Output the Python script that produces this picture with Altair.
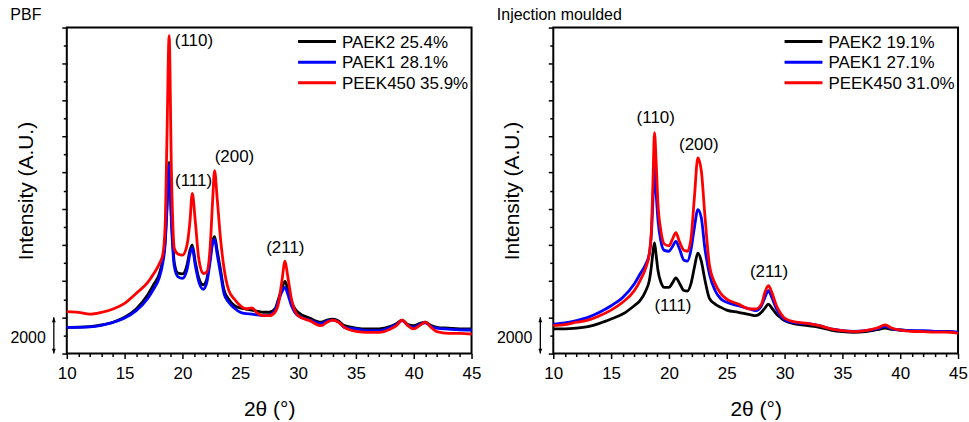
import altair as alt
import pandas as pd

FONT = "Liberation Sans, Arial, sans-serif"

# ---------------- PBF panel data ----------------
x_pbf = [10, 11, 12, 13, 14, 15, 16, 17, 17.5, 18,
         18.3, 18.5, 18.65, 18.85, 19.05, 19.3, 19.6, 20.0, 20.4, 20.65,
         20.85, 21.1, 21.4, 21.8, 22.1, 22.4, 22.6, 22.78, 23.0, 23.3,
         23.6, 24.0, 24.5, 25, 25.5, 26, 26.5, 27, 27.5, 28,
         28.3, 28.6, 28.87, 29.1, 29.4, 29.7, 30, 31, 32, 32.5,
         33, 33.5, 34, 35, 36, 37, 38, 38.5, 39, 39.5,
         40, 40.5, 41, 41.5, 42, 43, 44, 45]

paek2_pbf = [1450, 1460, 1490, 1580, 1730, 2000, 2460, 3250, 3800, 4400,
             5200, 6200, 8000, 10550, 7500, 5000, 4450, 4400, 4900, 5700,
             6000, 5100, 4200, 3800, 4100, 5300, 6200, 6450, 5700, 4600,
             3500, 3000, 2650, 2520, 2460, 2400, 2330, 2280, 2280, 2460,
             3000, 3600, 3980, 3600, 2900, 2500, 2280, 1960, 1730, 1850,
             1900, 1800, 1540, 1410, 1360, 1360, 1500, 1650, 1850, 1600,
             1540, 1650, 1730, 1550, 1450, 1400, 1360, 1360]

paek1_pbf = [1450, 1450, 1470, 1560, 1720, 1960, 2370, 3050, 3550, 4200,
             5000, 6000, 7800, 10450, 7200, 4800, 4250, 4150, 4650, 5500,
             5850, 4900, 4000, 3550, 3900, 5100, 6050, 6300, 5500, 4400,
             3300, 2830, 2500, 2280, 2200, 2180, 2130, 2090, 2130, 2370,
             2900, 3400, 3650, 3300, 2700, 2300, 2090, 1850, 1650, 1800,
             1850, 1750, 1450, 1360, 1270, 1270, 1450, 1600, 1820, 1550,
             1450, 1600, 1700, 1500, 1400, 1350, 1310, 1300]

peek450_pbf = [2310, 2270, 2180, 2280, 2460, 2770, 3320, 3930, 4390, 4950,
               5450, 7000, 11500, 17550, 10000, 5800, 5500, 5430, 6000, 7300,
               8850, 7400, 5300, 4420, 4500, 5900, 8300, 10100, 8600, 6300,
               4700, 3500, 3000, 2650, 2460, 2520, 2220, 2090, 2090, 2280,
               2750, 4000, 5100, 4300, 3100, 2400, 2090, 1820, 1540, 1730,
               1850, 1730, 1450, 1230, 1170, 1170, 1360, 1540, 1850, 1540,
               1360, 1540, 1730, 1450, 1210, 1120, 1120, 1080]

# ---------------- Injection moulded panel data ----------------
x_im = [10, 11, 12, 13, 14, 15, 16, 17, 17.5, 18,
        18.3, 18.5, 18.62, 18.75, 18.9, 19.05, 19.3, 19.6, 20, 20.3,
        20.6, 20.9, 21.3, 21.6, 21.9, 22.2, 22.5, 22.8, 23.1, 23.5,
        24, 24.5, 25, 26, 27, 27.5, 28, 28.3, 28.6, 28.9,
        29.3, 29.7, 30, 31, 32, 33, 34, 35, 36, 37,
        38, 38.7, 39.3, 40, 41, 42, 43, 44, 45]

paek2_im = [1360, 1360, 1400, 1490, 1670, 1910, 2180, 2640, 2920, 3470,
            4020, 4900, 5600, 6110, 5400, 4600, 3950, 3650, 3650, 3900,
            4180, 3900, 3480, 3450, 3850, 4750, 5550, 5100, 4100, 3050,
            2730, 2550, 2400, 2280, 2150, 2090, 2280, 2510, 2730, 2510,
            2180, 1960, 1820, 1630, 1540, 1450, 1300, 1210, 1170, 1210,
            1320, 1400, 1330, 1300, 1250, 1210, 1210, 1210, 1150]

paek1_im = [1630, 1700, 1820, 2000, 2280, 2640, 3100, 3840, 4390, 4940,
            5500, 6800, 8500, 10330, 8800, 7400, 6200, 5700, 5650, 5900,
            6200, 5800, 5150, 5100, 5700, 6950, 7950, 7500, 5850, 4400,
            3470, 3010, 2830, 2640, 2460, 2370, 2640, 3100, 3470, 3100,
            2460, 2050, 1870, 1690, 1650, 1540, 1360, 1270, 1230, 1270,
            1360, 1500, 1360, 1300, 1270, 1270, 1230, 1230, 1180]

peek450_im = [1540, 1600, 1730, 1850, 2090, 2400, 2830, 3470, 4020, 4750,
              5500, 7000, 9500, 12200, 10500, 8300, 6800, 6050, 5950, 6300,
              6680, 6200, 5700, 5650, 6300, 8600, 10800, 10100, 7700, 4900,
              3850, 3300, 3010, 2730, 2460, 2460, 2730, 3380, 3750, 3380,
              2640, 2180, 1960, 1730, 1670, 1540, 1360, 1270, 1210, 1270,
              1410, 1580, 1400, 1300, 1230, 1210, 1180, 1180, 1120]

series_colors = ["#000000", "#0000FF", "#FF0000"]
legend_pbf = ["PAEK2 25.4%", "PAEK1 28.1%", "PEEK450 35.9%"]
legend_im = ["PAEK2 19.1%", "PAEK1 27.1%", "PEEK450 31.0%"]

ann_pbf_lbl = ["(110)", "(111)", "(200)", "(211)"]
ann_pbf_x = [20.99, 20.96, 24.5, 28.9]
ann_pbf_y = [17267, 9524, 10863, 5854]
ann_im_lbl = ["(110)", "(200)", "(111)", "(211)"]
ann_im_x = [18.86, 22.58, 20.35, 28.66]
ann_im_y = [13010, 11542, 2642, 4477]

bar_low = [0]
bar_high = [2000]
bar_label = ["2000"]

X_MIN, X_MAX = 10, 45
Y_MIN, Y_MAX = 0, 18000
W, H = 406, 327


def make_panel(xs, ys_list, title, legend_labels, a_lbl, a_x, a_y):
    xscale = alt.Scale(domain=[X_MIN, X_MAX], nice=False, zero=False)
    yscale = alt.Scale(domain=[Y_MIN, Y_MAX], nice=False, zero=False)
    xaxis = alt.Axis(
        values=list(range(10, 46)), format="d",
        labelExpr="datum.value % 5 === 0 ? datum.label : ''",
        tickSize={"condition": {"test": "datum.value % 5 === 0", "value": 5}, "value": 3},
        tickColor="black", tickWidth=1.5, domain=False, grid=False,
        labelFont=FONT, labelFontSize=17, labelColor="black", labelPadding=7,
        labelFlush=False, labelOverlap=False,
        title="2θ (°)", titleFont=FONT, titleFontSize=21, titleFontWeight="normal",
        titleColor="black", titlePadding=17,
    )
    yaxis = alt.Axis(
        values=list(range(0, 18001, 1000)), labels=False,
        tickSize={"condition": {"test": "datum.value % 2000 === 0", "value": 5}, "value": 3.5},
        tickColor="black", tickWidth=1.5, domain=False, grid=False,
        title="Intensity (A.U.)", titleFont=FONT, titleFontSize=21, titleFontWeight="normal",
        titleColor="black", titlePadding=25,
    )
    X = lambda f: alt.X(f, scale=xscale, axis=xaxis)
    Y = lambda f: alt.Y(f, scale=yscale, axis=yaxis)
    layers = []
    for ys, col in zip(ys_list, series_colors):
        df = pd.DataFrame({"x": xs, "y": ys})
        layers.append(
            alt.Chart(df).mark_line(color=col, strokeWidth=2.8, interpolate="monotone").encode(
                x=X("x:Q"), y=Y("y:Q"),
            )
        )
    ann = pd.DataFrame({"x": a_x, "y": a_y, "t": a_lbl})
    layers.append(
        alt.Chart(ann).mark_text(font=FONT, fontSize=17, color="black", baseline="middle").encode(
            x=X("x:Q"), y=Y("y:Q"), text="t:N",
        )
    )
    # legend
    for i, (lab, col) in enumerate(zip(legend_labels, series_colors)):
        ypix = 14 + i * 20.7
        ldf = pd.DataFrame({"t": [lab]})
        layers.append(
            alt.Chart(ldf).mark_rule(color=col, strokeWidth=3).encode(
                x=alt.value(232), x2=alt.value(270), y=alt.value(ypix)
            )
        )
        layers.append(
            alt.Chart(ldf).mark_text(font=FONT, fontSize=17, color="black", align="left",
                                     baseline="middle").encode(
                x=alt.value(276), y=alt.value(ypix + 1), text="t:N"
            )
        )
    # scale bar
    bar = pd.DataFrame({"lo": bar_low, "hi": bar_high, "t": bar_label,
                        "mid": [(a + b) / 2 for a, b in zip(bar_low, bar_high)]})
    layers.append(
        alt.Chart(bar).mark_rule(color="black", strokeWidth=1.3).encode(
            x=alt.value(-13), y=Y("lo:Q"), y2="hi:Q",
        )
    )
    layers.append(
        alt.Chart(bar).mark_point(shape="M0,0L0.7,1.8L-0.7,1.8Z", filled=True, color="black",
                                  size=30, opacity=1).encode(
            x=alt.value(-13), y=Y("hi:Q")
        )
    )
    layers.append(
        alt.Chart(bar).mark_point(shape="M0,0L0.7,-1.8L-0.7,-1.8Z", filled=True, color="black",
                                  size=30, opacity=1).encode(
            x=alt.value(-13), y=Y("lo:Q")
        )
    )
    layers.append(
        alt.Chart(bar).mark_text(font=FONT, fontSize=16, color="black", align="right",
                                 baseline="middle", dy=3).encode(
            x=alt.value(-21), y=Y("mid:Q"), text="t:N"
        )
    )
    return alt.layer(*layers).properties(
        width=W, height=H,
        title=alt.TitleParams(text=title, anchor="start", font=FONT, fontSize=16,
                              fontWeight="normal", color="black", offset=4),
    )


left = make_panel(x_pbf, [paek2_pbf, paek1_pbf, peek450_pbf], "PBF", legend_pbf,
                  ann_pbf_lbl, ann_pbf_x, ann_pbf_y)
right = make_panel(x_im, [paek2_im, paek1_im, peek450_im], "Injection moulded", legend_im,
                   ann_im_lbl, ann_im_x, ann_im_y)

chart = alt.hconcat(left, right, spacing=82, bounds="flush").properties(
    padding={"left": 9, "top": 5, "right": 0, "bottom": 0}
).configure_view(stroke="black", strokeWidth=2)

chart.save("out.html", embed_options={"renderer": "svg", "actions": False})
